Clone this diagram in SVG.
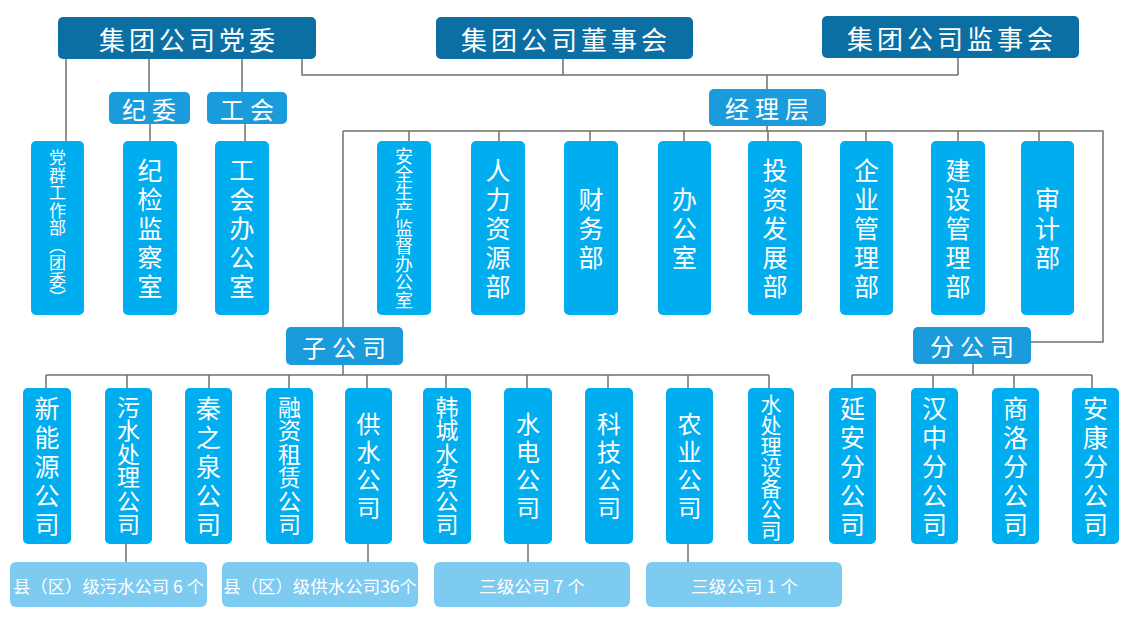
<svg xmlns="http://www.w3.org/2000/svg" width="1138" height="640" viewBox="0 0 1138 640">
<style>
text{font-family:"Noto Sans CJK SC","Noto Sans",sans-serif;fill:#fff;}
.hd{fill:#0c6fa3;}
.md{fill:#1a9bdc;}
.tl{fill:#00aeef;}
.lt{fill:#7dcbf1;}
.h1{font-size:26px;letter-spacing:4px;text-anchor:middle;dominant-baseline:central;}
.h2{font-size:24px;letter-spacing:6px;text-anchor:middle;dominant-baseline:central;}
.v{writing-mode:vertical-rl;text-anchor:middle;}
.v5{font-size:25px;letter-spacing:4px;}
.v6{font-size:23px;letter-spacing:0.5px;}
.v4{font-size:24px;letter-spacing:4px;}
.lb{font-size:17px;text-anchor:middle;dominant-baseline:central;}
.c{fill:none;stroke:#707070;stroke-width:1.5;}
</style>
<rect width="1138" height="640" fill="#fff"/>
<g id="connectors" class="c">
<path d="M66 59V141M149 59V92M242 59V92M150 124V141M245 124V141"/>
<path d="M302 59V75H958M563 59V75M958 58V75M767 75V89M767 126V131"/>
<path d="M343 131H1103V342H1031M343 131V327"/>
<path d="M409 131V141M499 131V141M590 131V141M684 131V141M768 131V141M866 131V141M958 131V141M1039 131V141"/>
<path d="M343 365V375M46 375H769M46 375V388M127 375V388M209 375V388M289 375V388M367 375V388M446 375V388M527 375V388M608 375V388M688 375V388M769 375V388"/>
<path d="M973 364V375M852 375H1092M852 375V388M933 375V388M1014 375V388M1092 375V388"/>
<path d="M126 544V562M368 544V562M528 544V562M688 544V562"/>
</g>
<g id="dangwei"><rect class="hd" x="58" y="17" width="258" height="42" rx="5"/><text class="h1" x="189" y="38">集团公司党委</text></g>
<g id="dongshihui"><rect class="hd" x="436" y="17" width="257" height="42" rx="5"/><text class="h1" x="566" y="38">集团公司董事会</text></g>
<g id="jianshihui"><rect class="hd" x="822" y="16" width="257" height="42" rx="5"/><text class="h1" x="952" y="37">集团公司监事会</text></g>
<g id="jiwei"><rect class="md" x="109" y="92" width="81" height="32" rx="5"/><text class="h2" x="152" y="108">纪委</text></g>
<g id="gonghui"><rect class="md" x="207" y="92" width="80" height="32" rx="5"/><text class="h2" x="250" y="108">工会</text></g>
<g id="jingliceng"><rect class="md" x="709" y="89" width="117" height="37" rx="5"/><text class="h2" x="770" y="107.5">经理层</text></g>
<g id="zigongsi"><rect class="md" x="286" y="327" width="117" height="38" rx="5"/><text class="h2" x="347" y="346">子公司</text></g>
<g id="fengongsi"><rect class="md" x="913" y="327" width="118" height="37" rx="5"/><text class="h2" x="975" y="345.5">分公司</text></g>

<g id="dangqun"><rect class="tl" x="31" y="141" width="53" height="174" rx="5"/><text class="v" x="57.5" y="228" style="font-size:17px;letter-spacing:0.5px">党群工作部（团委）</text></g>
<g id="jijian"><rect class="tl" x="123" y="141" width="54" height="174" rx="5"/><text class="v v5" x="150" y="230">纪检监察室</text></g>
<g id="ghbgs"><rect class="tl" x="215" y="141" width="54" height="174" rx="5"/><text class="v v5" x="242" y="230">工会办公室</text></g>
<g id="anquan"><rect class="tl" x="377" y="141" width="54" height="174" rx="5"/><text class="v" x="404" y="228" style="font-size:18px">安全生产监督办公室</text></g>
<g id="renli"><rect class="tl" x="471" y="141" width="54" height="174" rx="5"/><text class="v v5" x="498" y="230">人力资源部</text></g>
<g id="caiwu"><rect class="tl" x="564" y="141" width="54" height="174" rx="5"/><text class="v v5" x="591" y="230">财务部</text></g>
<g id="bangongshi"><rect class="tl" x="658" y="141" width="53" height="174" rx="5"/><text class="v v5" x="684.5" y="230">办公室</text></g>
<g id="touzi"><rect class="tl" x="748" y="141" width="54" height="174" rx="5"/><text class="v v5" x="775" y="230">投资发展部</text></g>
<g id="qiye"><rect class="tl" x="840" y="141" width="53" height="174" rx="5"/><text class="v v5" x="866.5" y="230">企业管理部</text></g>
<g id="jianshe"><rect class="tl" x="931" y="141" width="54" height="174" rx="5"/><text class="v v5" x="958" y="230">建设管理部</text></g>
<g id="shenji"><rect class="tl" x="1021" y="141" width="53" height="174" rx="5"/><text class="v v5" x="1047.5" y="230">审计部</text></g>

<g id="xinnengyuan"><rect class="tl" x="23" y="388" width="48" height="156" rx="5"/><text class="v v5" x="47" y="468">新能源公司</text></g>
<g id="wushui"><rect class="tl" x="105" y="388" width="47" height="156" rx="5"/><text class="v v6" x="128.5" y="466">污水处理公司</text></g>
<g id="qinzhiquan"><rect class="tl" x="185" y="388" width="47" height="156" rx="5"/><text class="v v5" x="208.5" y="468">秦之泉公司</text></g>
<g id="rongzi"><rect class="tl" x="266" y="388" width="47" height="156" rx="5"/><text class="v v6" x="289.5" y="466">融资租赁公司</text></g>
<g id="gongshui"><rect class="tl" x="345" y="388" width="47" height="156" rx="5"/><text class="v v4" x="368.5" y="468">供水公司</text></g>
<g id="hancheng"><rect class="tl" x="423" y="388" width="48" height="156" rx="5"/><text class="v v6" x="447" y="466">韩城水务公司</text></g>
<g id="shuidian"><rect class="tl" x="504" y="388" width="48" height="156" rx="5"/><text class="v v4" x="528" y="468">水电公司</text></g>
<g id="keji"><rect class="tl" x="585" y="388" width="48" height="156" rx="5"/><text class="v v4" x="609" y="468">科技公司</text></g>
<g id="nongye"><rect class="tl" x="666" y="388" width="47" height="156" rx="5"/><text class="v v4" x="689.5" y="468">农业公司</text></g>
<g id="shuichuli"><rect class="tl" x="748" y="388" width="46" height="156" rx="5"/><text class="v" x="771" y="467" style="font-size:21px">水处理设备公司</text></g>
<g id="yanan"><rect class="tl" x="829" y="388" width="47" height="156" rx="5"/><text class="v v5" x="852.5" y="468">延安分公司</text></g>
<g id="hanzhong"><rect class="tl" x="911" y="388" width="47" height="156" rx="5"/><text class="v v5" x="934.5" y="468">汉中分公司</text></g>
<g id="shangluo"><rect class="tl" x="992" y="388" width="47" height="156" rx="5"/><text class="v v5" x="1015.5" y="468">商洛分公司</text></g>
<g id="ankang"><rect class="tl" x="1072" y="388" width="47" height="156" rx="5"/><text class="v v5" x="1095.5" y="468">安康分公司</text></g>

<g id="xianwushui"><rect class="lt" x="10" y="562" width="197" height="45" rx="6"/><text class="lb" x="108.5" y="585" textLength="191" lengthAdjust="spacingAndGlyphs">县（区）级污水公司 6 个</text></g>
<g id="xiangongshui"><rect class="lt" x="222" y="562" width="196" height="45" rx="6"/><text class="lb" x="320" y="585" textLength="194" lengthAdjust="spacingAndGlyphs">县（区）级供水公司36个</text></g>
<g id="sanji7"><rect class="lt" x="434" y="562" width="196" height="45" rx="6"/><text class="lb" x="532" y="585" textLength="106" lengthAdjust="spacingAndGlyphs">三级公司 7 个</text></g>
<g id="sanji1"><rect class="lt" x="646" y="562" width="196" height="45" rx="6"/><text class="lb" x="744.5" y="585" textLength="107" lengthAdjust="spacingAndGlyphs">三级公司 1 个</text></g>
</svg>
